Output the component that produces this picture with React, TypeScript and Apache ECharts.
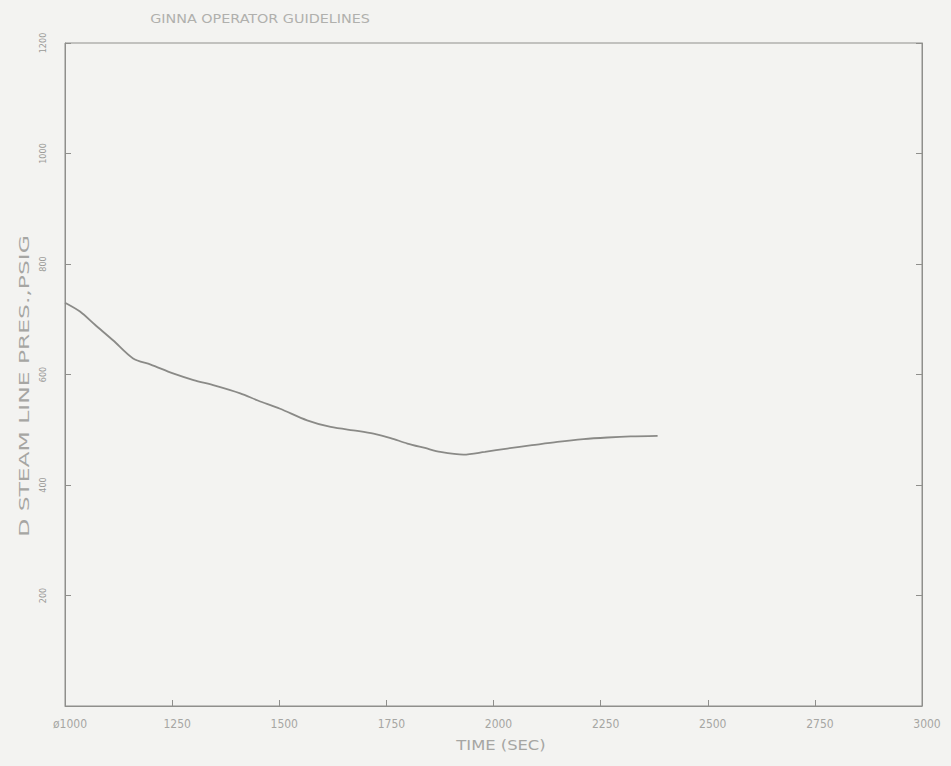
import React, { useEffect, useRef } from "react";
import * as echarts from "echarts";

const timeSec = [1000, 1035, 1070, 1112, 1159, 1200, 1252, 1300, 1350, 1409, 1450, 1502, 1565, 1620, 1682, 1720, 1760, 1799, 1840, 1876, 1930, 1980, 2032, 2090, 2149, 2210, 2266, 2320, 2383];
const pressure = [730, 714, 690, 662, 629, 618, 602, 590, 580, 566, 553, 538, 517, 505, 498, 493, 485, 475, 467, 460, 455, 460, 466, 472, 478, 483, 486, 488, 489];
const titleText = "GINNA OPERATOR GUIDELINES";
const yAxisTitle = "D STEAM LINE PRES.,PSIG";
const xAxisTitle = "TIME (SEC)";

const ink = "#a6a6a3";
const lineInk = "#8f8f8c";
const font = "'DejaVu Sans Condensed', 'Liberation Sans Narrow', 'DejaVu Sans', sans-serif";

export default function App() {
  const ref = useRef<HTMLDivElement>(null);
  useEffect(() => {
    if (!ref.current) return;
    const chart = echarts.init(ref.current, undefined, { renderer: "svg" });
    const data = timeSec.map((t, i) => [t, pressure[i]]);
    chart.setOption({
      animation: false,
      backgroundColor: "#f3f3f1",
      graphic: [
        {
          type: "text",
          x: 260,
          y: 19,
          scaleX: 1.33,
          style: {
            text: titleText,
            fill: "#b0b0ad",
            font: "12px 'DejaVu Sans Condensed', sans-serif",
            textAlign: "center",
            textVerticalAlign: "middle",
          },
        },
        {
          type: "text",
          x: 24,
          y: 386,
          rotation: Math.PI / 2,
          scaleX: 1.86,
          style: {
            text: yAxisTitle,
            fill: ink,
            font: "14px 'DejaVu Sans Condensed', sans-serif",
            textAlign: "center",
            textVerticalAlign: "middle",
          },
        },
        {
          type: "text",
          x: 501,
          y: 745,
          scaleX: 1.3,
          style: {
            text: xAxisTitle,
            fill: ink,
            font: "14px 'DejaVu Sans Condensed', sans-serif",
            textAlign: "center",
            textVerticalAlign: "middle",
          },
        },
      ],
      grid: {
        left: 65,
        right: 29,
        top: 43,
        bottom: 60,
        show: true,
        borderColor: lineInk,
        borderWidth: 1,
        backgroundColor: "transparent",
      },
      xAxis: {
        type: "value",
        min: 1000,
        max: 3000,
        interval: 250,
        axisLine: { show: true, lineStyle: { color: lineInk } },
        axisTick: { show: true, inside: true, length: 6, lineStyle: { color: lineInk } },
        axisLabel: {
          color: ink,
          fontSize: 12,
          fontFamily: font,
          margin: 12,
          padding: [0, 0, 0, 10],
          formatter: (v: number) => (v === 1000 ? "ø1000" : String(v)),
        },
        splitLine: { show: false },
      },
      yAxis: [
        {
          type: "value",
          min: 0,
          max: 1200,
          interval: 200,
          axisLine: { show: true, lineStyle: { color: lineInk } },
          axisTick: { show: true, inside: true, length: 6, lineStyle: { color: lineInk } },
          axisLabel: {
            color: "#9a9a97",
            fontSize: 9,
            fontFamily: font,
            rotate: 90,
            margin: 18,
            formatter: (v: number) => (v === 0 ? "" : String(v)),
          },
          splitLine: { show: false },
        },
        {
          type: "value",
          min: 0,
          max: 1200,
          interval: 200,
          position: "right",
          axisLine: { show: true, lineStyle: { color: lineInk } },
          axisTick: { show: true, inside: true, length: 6, lineStyle: { color: lineInk } },
          axisLabel: { show: false },
          splitLine: { show: false },
        },
      ],
      series: [
        {
          type: "line",
          data,
          smooth: 0.3,
          showSymbol: false,
          lineStyle: { color: "#8a8a87", width: 1.8 },
        },
      ],
    });
    return () => chart.dispose();
  }, []);
  return <div ref={ref} style={{ position: "fixed", left: 0, top: 0, width: 951, height: 766 }} />;
}
